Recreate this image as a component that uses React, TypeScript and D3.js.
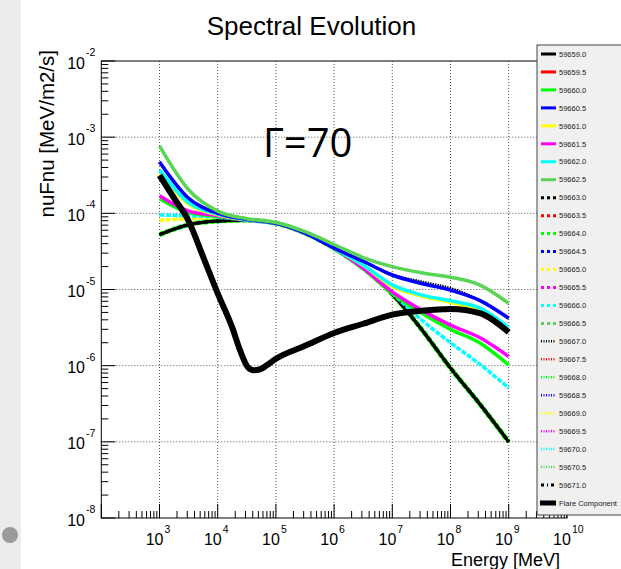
import React from 'react';
import * as d3 from 'd3';

// Energy grid (MeV) shared by the time-resolved spectra
const energies = [1e3, 3.16e3, 1e4, 3.16e4, 1e5, 3.16e5, 1e6, 3.16e6, 1e7, 3.16e7, 1e8, 3.16e8, 1e9];

// nuFnu values [MeV/m2/s]
const fluxBase = [5.25e-5, 7.08e-5, 7.94e-5, 8.13e-5, 7.41e-5, 5.5e-5, 3.47e-5, 1.91e-5, 8.7e-6, 3.02e-6, 9.3e-7, 3.16e-7, 1.0e-7];
const fluxGreen = [1.55e-4, 1.02e-4, 9.1e-5, 8.13e-5, 7.41e-5, 5.5e-5, 3.47e-5, 1.86e-5, 8.9e-6, 4.9e-6, 3.0e-6, 2.0e-6, 1.02e-6];
const fluxBlue = [4.73e-4, 1.58e-4, 1.0e-4, 8.32e-5, 7.41e-5, 5.5e-5, 3.5e-5, 2.35e-5, 1.55e-5, 1.2e-5, 9.8e-6, 7.2e-6, 4.2e-6];
const fluxYellow = [3.39e-4, 1.32e-4, 9.55e-5, 8.2e-5, 7.41e-5, 5.5e-5, 3.45e-5, 2.08e-5, 1.1e-5, 8.2e-6, 6.8e-6, 5.3e-6, 2.9e-6];
const fluxMagenta = [1.7e-4, 1.07e-4, 9.3e-5, 8.13e-5, 7.41e-5, 5.5e-5, 3.47e-5, 1.91e-5, 9.3e-6, 5.4e-6, 3.4e-6, 2.34e-6, 1.32e-6];
const fluxCyan = [3.72e-4, 1.38e-4, 9.8e-5, 8.2e-5, 7.41e-5, 5.5e-5, 3.45e-5, 2.1e-5, 1.15e-5, 8.5e-6, 7.1e-6, 5.75e-6, 3.16e-6];
const fluxGreen8 = [7.67e-4, 2.04e-4, 1.07e-4, 8.51e-5, 7.59e-5, 5.75e-5, 3.9e-5, 2.63e-5, 2.0e-5, 1.66e-5, 1.45e-5, 1.15e-5, 6.6e-6];
const fluxCyanLow = [9.5e-5, 9.3e-5, 8.9e-5, 8.13e-5, 7.41e-5, 5.5e-5, 3.47e-5, 1.91e-5, 8.9e-6, 4.0e-6, 2.0e-6, 1.05e-6, 5.1e-7];
const fluxYellowLow = [8.13e-5, 8.5e-5, 8.7e-5, 8.13e-5, 7.41e-5, 5.5e-5, 3.47e-5, 1.91e-5, 8.7e-6, 3.02e-6, 9.3e-7, 3.16e-7, 1.0e-7];
const fluxBlackDense = [4.73e-4, 1.58e-4, 1.0e-4, 8.32e-5, 7.41e-5, 5.5e-5, 3.5e-5, 2.35e-5, 1.55e-5, 1.26e-5, 1.03e-5, 7.2e-6, 4.2e-6];

// Flare component
const flareEnergies = [1e3, 1.78e3, 3.16e3, 5.62e3, 1e4, 1.78e4, 2.4e4, 3.31e4, 4.17e4, 5.25e4, 7.08e4, 1e5, 3.16e5, 1e6, 3.16e6, 1e7, 3.16e7, 1e8, 3.16e8, 1e9];
const flareFlux = [3.16e-4, 1.58e-4, 7.94e-5, 2.69e-5, 8.9e-6, 3.16e-6, 1.62e-6, 9.5e-7, 8.7e-7, 8.9e-7, 1.02e-6, 1.23e-6, 1.82e-6, 2.69e-6, 3.55e-6, 4.68e-6, 5.25e-6, 5.56e-6, 4.9e-6, 2.75e-6];

const seriesLabels = [
  '59659.0', '59659.5', '59660.0', '59660.5', '59661.0', '59661.5', '59662.0', '59662.5',
  '59663.0', '59663.5', '59664.0', '59664.5', '59665.0', '59665.5', '59666.0', '59666.5',
  '59667.0', '59667.5', '59668.0', '59668.5', '59669.0', '59669.5', '59670.0', '59670.5',
  '59671.0',
];
const seriesData = [
  fluxBase, fluxBase, fluxGreen, fluxBlue, fluxYellow, fluxMagenta, fluxCyan, fluxGreen8,
  fluxBase, fluxBase, fluxBase, fluxBase, fluxYellowLow, fluxBase, fluxCyanLow, fluxBase,
  fluxBlackDense, fluxBase, fluxBase, fluxBase, fluxBase, fluxBase, fluxBase, fluxBase,
  fluxBase,
];
const flareLabel = 'Flare Component';

const xDecades = [2, 3, 4, 5, 6, 7, 8, 9, 10];
const yDecades = [-8, -7, -6, -5, -4, -3, -2];

// styles
const palette = ['#000000', '#ff0000', '#00ff00', '#0000ff', '#ffff00', '#ff00ff', '#00ffff', '#59d454'];
function styleOf(i: number) {
  const color = i === 24 ? '#000000' : palette[i % 8];
  let dash = '', plotDash = '';
  if (i >= 8 && i < 16) { dash = '3,3'; plotDash = '5,1.5'; }
  else if (i >= 16 && i < 24) { dash = '1,1.5'; plotDash = '1.5,1'; }
  else if (i === 24) { dash = '3,3,1,3'; plotDash = '4,2,1.5,2'; }
  return { color, dash, plotDash };
}
const drawOrder = [1, 9, 17, 11, 19, 13, 21, 15, 23, 20, 22, 18, 12, 10, 0, 8, 24, 14, 16, 2, 5, 4, 6, 3, 7];

const W = 621, H = 569;
const L = 101.3, R = 566.9, T = 61, B = 518;

export default function App() {
  const x = d3.scaleLog().domain([1e2, 1e10]).range([L, R]);
  const y = d3.scaleLog().domain([1e-8, 1e-2]).range([B, T]);
  const line = d3.line<[number, number]>()
    .x(d => x(d[0]))
    .y(d => y(d[1]))
    .curve(d3.curveMonotoneX);

  const xMinor: number[] = [];
  xDecades.slice(0, -1).forEach(d => { for (let k = 2; k <= 9; k++) xMinor.push(k * Math.pow(10, d)); });
  const yMinor: number[] = [];
  yDecades.slice(0, -1).forEach(d => { for (let k = 2; k <= 9; k++) yMinor.push(k * Math.pow(10, d)); });

  const font = "'Liberation Sans', Arial, Helvetica, sans-serif";
  const legX = 537, legY = 45, legW = 95, legH = 470;
  const entryY = (i: number) => 54 + i * 17.96;

  const widthOf = (i: number) => {
    if (i === 10) return 5;
    if (i === 0 || i === 8 || i === 24) return 3;
    if ((i >= 1 && i < 8) || i === 14 || i === 12) return 3.5;
    return 3;
  };

  return (
    <svg width={W} height={H} style={{ position: 'absolute', left: 0, top: 0, background: '#fff' }} fontFamily={font}>
      <rect x={0} y={0} width={W} height={H} fill="#ffffff" />
      <rect x={0} y={0} width={21} height={H} fill="#ececec" />
      <circle cx={10} cy={535} r={8} fill="#9a9a9a" />

      {/* grid */}
      {xDecades.slice(1, -1).map(d => (
        <line key={'gx' + d} x1={x(Math.pow(10, d))} x2={x(Math.pow(10, d))} y1={T} y2={B}
          stroke="#555" strokeWidth={1} strokeDasharray="1,2" />
      ))}
      {yDecades.slice(1, -1).map(d => (
        <line key={'gy' + d} x1={L} x2={R} y1={y(Math.pow(10, d))} y2={y(Math.pow(10, d))}
          stroke="#555" strokeWidth={1} strokeDasharray="1,2" />
      ))}

      {/* series */}
      {drawOrder.map(i => {
        const st = styleOf(i);
        const pts = energies.map((e, j) => [e, seriesData[i][j]] as [number, number]);
        return (
          <path key={'s' + i} d={line(pts) || ''} fill="none" stroke={st.color} strokeWidth={widthOf(i)}
            strokeDasharray={st.plotDash || undefined} strokeLinejoin="round" />
        );
      })}
      <path d={line(flareEnergies.map((e, j) => [e, flareFlux[j]] as [number, number])) || ''}
        fill="none" stroke="#000" strokeWidth={6} strokeLinejoin="round" />

      {/* frame */}
      <rect x={L} y={T} width={R - L} height={B - T} fill="none" stroke="#000" strokeWidth={1} />

      {/* ticks */}
      {xDecades.map(d => (
        <line key={'xt' + d} x1={x(Math.pow(10, d))} x2={x(Math.pow(10, d))} y1={B} y2={B - 14} stroke="#000" />
      ))}
      {xMinor.map((v, k) => (
        <line key={'xm' + k} x1={x(v)} x2={x(v)} y1={B} y2={B - 7} stroke="#000" />
      ))}
      {yDecades.map(d => (
        <line key={'yt' + d} x1={L} x2={L + 14} y1={y(Math.pow(10, d))} y2={y(Math.pow(10, d))} stroke="#000" />
      ))}
      {yMinor.map((v, k) => (
        <line key={'ym' + k} x1={L} x2={L + 7} y1={y(v)} y2={y(v)} stroke="#000" />
      ))}

      {/* tick labels */}
      {yDecades.map(d => (
        <g key={'yl' + d}>
          <text x={85} y={y(Math.pow(10, d)) + 7.5} textAnchor="end" fontSize={16} fill="#000">10</text>
          <text x={86} y={y(Math.pow(10, d)) - 5} textAnchor="start" fontSize={10.5} fill="#000">{String(d)}</text>
        </g>
      ))}
      {xDecades.slice(1).map(d => (
        <g key={'xl' + d}>
          <text x={x(Math.pow(10, d)) + 4} y={545} textAnchor="end" fontSize={16} fill="#000">10</text>
          <text x={x(Math.pow(10, d)) + 5} y={533} textAnchor="start" fontSize={10.5} fill="#000">{String(d)}</text>
        </g>
      ))}

      {/* titles */}
      <text x={311.5} y={35} textAnchor="middle" fontSize={26} fill="#000">Spectral Evolution</text>
      <text x={560} y={566} textAnchor="end" fontSize={18} fill="#000">Energy [MeV]</text>
      <text transform="translate(54,50) rotate(-90)" textAnchor="end" fontSize={20.5} fill="#000">nuFnu [MeV/m2/s]</text>
      <text x={263} y={157} fontSize={40} fontFamily="'Open Sans', 'Noto Sans', sans-serif" fill="#000">Γ=70</text>

      {/* legend */}
      <rect x={legX} y={legY} width={legW} height={legH} fill="#f0f0f0" stroke="#444" strokeWidth={1} />
      {seriesLabels.map((lab, i) => {
        const st = styleOf(i);
        const yy = entryY(i);
        return (
          <g key={'lg' + i}>
            <line x1={541} x2={556} y1={yy} y2={yy} stroke={st.color} strokeWidth={i >= 16 && i < 24 ? 2.5 : 3}
              strokeDasharray={st.dash || undefined} />
            <text x={559} y={yy + 2.7} fontSize={7.5} fill="#222">{lab}</text>
          </g>
        );
      })}
      <line x1={540} x2={556} y1={entryY(25)} y2={entryY(25)} stroke="#000" strokeWidth={5} />
      <text x={559} y={entryY(25) + 2.7} fontSize={7.5} fill="#222">{flareLabel}</text>
    </svg>
  );
}
